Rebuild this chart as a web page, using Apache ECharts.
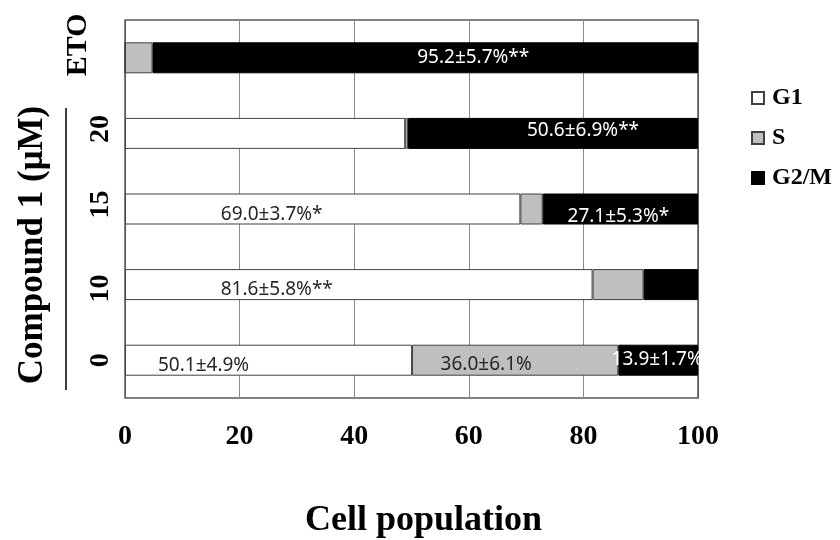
<!DOCTYPE html>
<html>
<head>
<meta charset="utf-8">
<script src="https://cdn.jsdelivr.net/npm/echarts@6/dist/echarts.min.js"></script>
<style>html,body{margin:0;padding:0;background:#fff;}#chart{width:840px;height:540px;}</style>
</head>
<body>
<div id="chart"></div>
<script>
// Data (top to bottom)
const categories = ['ETO', '20', '15', '10', '0'];
const seriesNames = ['G1', 'S', 'G2/M'];
const g1Values = [0, 48.9, 69.0, 81.6, 50.1];
const sValues = [4.8, 0.5, 3.9, 8.9, 36.0];
const g2mValues = [95.2, 50.6, 27.1, 9.5, 13.9];
const g1Labels = ['', '', '69.0±3.7%*', '81.6±5.8%**', '50.1±4.9%'];
const sLabels = ['', '', '', '', '36.0±6.1%'];
const g2mLabels = ['95.2±5.7%**', '50.6±6.9%**', '27.1±5.3%*', '', '13.9±1.7%'];
const xTicks = [0, 20, 40, 60, 80, 100];

// Label placement styles
const g1Offsets = [[0,0],[0,0],[-51,6],[-82,5],[-65,5]];
const sOffsets = [[0,0],[0,0],[0,0],[0,0],[-29,4]];
const g2mOffsets = [[48,0],[30,-3],[-2,8],[0,0],[-1,-1]];
const catRich = {'ETO':'eto','20':'up','15':'up','10':'down','0':'none'};

const SERIF = '"Liberation Serif", "Times New Roman", serif';
const SANS = '"Noto Sans", "Open Sans", sans-serif';

function buildData(values, labels, offsets, color) {
  return values.map((v, i) => ({
    value: v,
    label: {
      show: !!labels[i],
      formatter: labels[i],
      offset: offsets[i],
      color: color
    }
  }));
}

const chart = echarts.init(document.getElementById('chart'), null, {renderer: 'canvas'});
const option = {
  animation: false,
  backgroundColor: '#ffffff',
  grid: {
    left: 125, top: 20, width: 573, height: 378,
    containLabel: false, outerBoundsMode: 'none',
    show: true, borderColor: '#595959', borderWidth: 1.5, backgroundColor: 'transparent'
  },
  legend: {
    orient: 'vertical',
    left: 751, top: 86, padding: 0,
    itemWidth: 12, itemHeight: 12, itemGap: 16,
    selectedMode: false,
    icon: 'rect',
    data: seriesNames,
    textStyle: {fontFamily: SERIF, fontWeight: 'bold', fontSize: 24, color: '#000', padding: [0,0,0,3]}
  },
  xAxis: {
    type: 'value', min: 0, max: 100, interval: 20,
    name: 'Cell population', nameLocation: 'middle', nameGap: 105,
    nameTextStyle: {fontFamily: SERIF, fontWeight: 'bold', fontSize: 36, color: '#000', padding: [0,0,0,24]},
    axisLine: {show: false}, axisTick: {show: false},
    axisLabel: {fontFamily: SERIF, fontWeight: 'bold', fontSize: 28, color: '#000', margin: 25,
      formatter: v => (xTicks.indexOf(v) >= 0 ? String(v) : '')},
    splitLine: {show: true, lineStyle: {color: ['#595959','#8c8c8c','#8c8c8c','#8c8c8c','#8c8c8c','#595959'], width: 1}}
  },
  yAxis: {
    type: 'category', inverse: true, data: categories,
    name: 'Compound 1 (μM)', nameLocation: 'middle', nameGap: 75,
    nameTextStyle: {fontFamily: SERIF, fontWeight: 'bold', fontSize: 35, color: '#000', padding: [0,72,0,0]},
    axisLine: {show: false}, axisTick: {show: false}, splitLine: {show: false},
    axisLabel: {
      interval: 0, hideOverlap: false,
      rotate: 90, margin: 10,
      fontFamily: SERIF, fontWeight: 'bold', fontSize: 28, color: '#000',
      formatter: v => '{' + catRich[v] + '|' + v + '}',
      rich: {
        eto: {fontFamily: SERIF, fontWeight: 'bold', fontSize: 30, color: '#000', padding: [0,0,22,26]},
        up: {fontFamily: SERIF, fontWeight: 'bold', fontSize: 28, color: '#000', padding: [0,0,0,9]},
        down: {fontFamily: SERIF, fontWeight: 'bold', fontSize: 28, color: '#000', padding: [0,8,0,0]},
        none: {fontFamily: SERIF, fontWeight: 'bold', fontSize: 28, color: '#000'}
      }
    }
  },
  graphic: [{
    type: 'line', shape: {x1: 66, y1: 108, x2: 66, y2: 390},
    style: {stroke: '#000', lineWidth: 1.5}, silent: true
  }],
  series: [
    {
      name: 'G1', type: 'bar', stack: 'total', barWidth: 31,
      itemStyle: {color: '#ffffff', borderColor: '#404040', borderWidth: 1},
      label: {position: 'inside', fontFamily: SANS, fontSize: 19},
      data: buildData(g1Values, g1Labels, g1Offsets, '#262626')
    },
    {
      name: 'S', type: 'bar', stack: 'total', barWidth: 31,
      itemStyle: {color: '#bfbfbf', borderColor: '#404040', borderWidth: 1},
      label: {position: 'inside', fontFamily: SANS, fontSize: 19},
      data: buildData(sValues, sLabels, sOffsets, '#262626')
    },
    {
      name: 'G2/M', type: 'bar', stack: 'total', barWidth: 31,
      itemStyle: {color: '#000000', borderColor: '#000000', borderWidth: 1},
      label: {position: 'inside', fontFamily: SANS, fontSize: 19},
      data: buildData(g2mValues, g2mLabels, g2mOffsets, '#ffffff')
    }
  ]
};
chart.setOption(option);
</script>
</body>
</html>
